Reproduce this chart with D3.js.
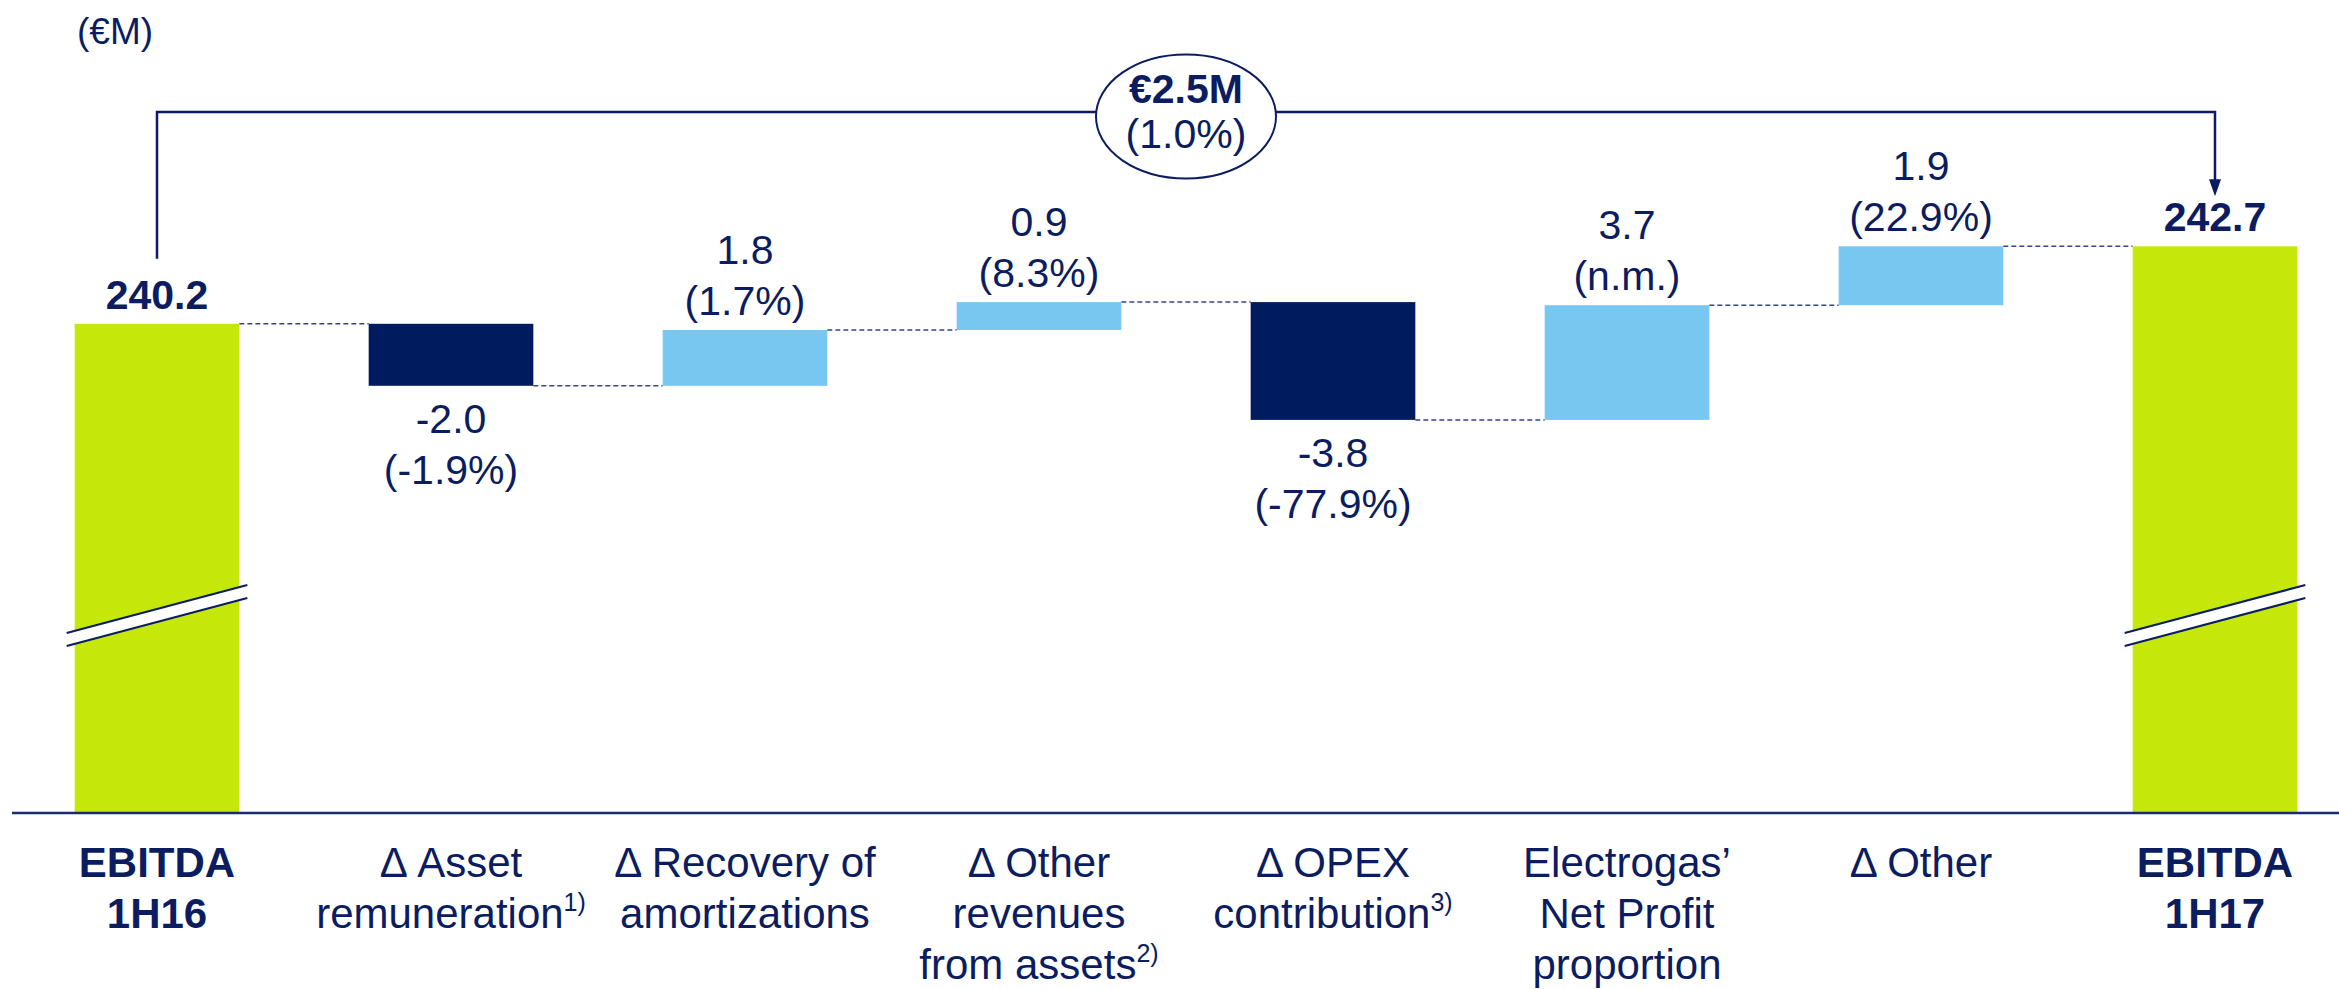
<!DOCTYPE html>
<meta charset="utf-8">
<style>
body {
    margin: 0;
    background: #fff;
}

.chart text {
    font-family: Arial, "Liberation Sans", sans-serif;
    fill: #0b1d60;
}

.chart .connector {
    fill: none;
    stroke: #34448a;
    stroke-width: 1.5;
    stroke-dasharray: 5,3;
}

.chart .bracket {
    fill: none;
    stroke: #0b1d60;
    stroke-width: 2.5;
}

.chart .baseline {
    stroke: #1a2c6c;
    stroke-width: 2.5;
}
</style>
<body>

<svg class="chart js-chart"></svg>

<script src="https://cdn.jsdelivr.net/npm/d3@7"></script>
<script type="text/javascript">
"use strict";

// data
var categories = [
    ["EBITDA", "1H16"],
    ["\u0394 Asset", "remuneration"],
    ["\u0394 Recovery of", "amortizations"],
    ["\u0394 Other", "revenues", "from assets"],
    ["\u0394 OPEX", "contribution"],
    ["Electrogas\u2019", "Net Profit", "proportion"],
    ["\u0394 Other"],
    ["EBITDA", "1H17"]
];
var footnotes = ["", "1)", "", "2)", "3)", "", "", ""];
var values = [240.2, -2.0, 1.8, 0.9, -3.8, 3.7, 1.9, 242.7];
var isTotal = [true, false, false, false, false, false, false, true];
var pctLabels = ["", "(-1.9%)", "(1.7%)", "(8.3%)", "(-77.9%)", "(n.m.)", "(22.9%)", ""];
var totalChange = "\u20ac2.5M";
var totalChangePct = "(1.0%)";
var unitLabel = "(\u20acM)";

var width = 2339,
    height = 989,
    baselineY = 813,
    bracketY = 112,
    green = "#c5e80a",
    navy = "#011b5f",
    lightBlue = "#78c7f0";

var fmt = d3.formatLocale({ decimal: ".", thousands: ",", grouping: [3], currency: ["", ""], minus: "-" }).format(".1f");

// waterfall steps
var running = 0;
var steps = values.map(function(v, i) {
    var start, end;
    if (isTotal[i]) {
        start = null;
        end = v;
    } else {
        start = running;
        end = running + v;
    }
    running = end;
    return { i: i, value: v, start: start, end: end, total: isTotal[i] };
});

var x = d3.scaleBand()
    .domain(d3.range(values.length))
    .range([10, 2362])
    .paddingInner(0.44)
    .paddingOuter(0.22);

var y = d3.scaleLinear()
    .domain([236, 243])
    .range([454, 237]);

var svg = d3.select(".js-chart")
    .attr("width", width)
    .attr("height", height);

var bw = x.bandwidth();

function barTop(d) {
    return d.total ? y(d.end) : y(Math.max(d.start, d.end));
}

function barBottom(d) {
    return d.total ? baselineY : y(Math.min(d.start, d.end));
}

function barColor(d) {
    if (d.total) return green;
    return d.value < 0 ? navy : lightBlue;
}

// connectors
svg.selectAll(".connector")
    .data(steps.slice(0, -1))
    .enter().append("line")
    .attr("class", "connector")
    .attr("x1", function(d) { return x(d.i) + bw; })
    .attr("x2", function(d) { return x(d.i + 1); })
    .attr("y1", function(d) { return y(d.end); })
    .attr("y2", function(d) { return y(d.end); });

// bars
svg.selectAll(".bar")
    .data(steps)
    .enter().append("rect")
    .attr("class", "bar")
    .attr("x", function(d) { return x(d.i); })
    .attr("y", barTop)
    .attr("width", bw)
    .attr("height", function(d) { return barBottom(d) - barTop(d); })
    .attr("fill", barColor);

// axis break marks on the total bars
var breaks = svg.selectAll(".break")
    .data(steps.filter(function(d) { return d.total; }))
    .enter().append("g")
    .attr("class", "break");

breaks.append("path")
    .attr("fill", "#fff")
    .attr("d", function(d) {
        var x0 = x(d.i) - 8, x1 = x(d.i) + bw + 8;
        return "M" + x0 + ",633 L" + x1 + ",585 L" + x1 + ",598 L" + x0 + ",646 Z";
    });

breaks.selectAll("line")
    .data(function(d) { return [[d, 0], [d, 13]]; })
    .enter().append("line")
    .attr("stroke", "#0b1d60")
    .attr("stroke-width", 2.2)
    .attr("x1", function(p) { return x(p[0].i) - 8; })
    .attr("x2", function(p) { return x(p[0].i) + bw + 8; })
    .attr("y1", function(p) { return 633 + p[1]; })
    .attr("y2", function(p) { return 585 + p[1]; });

// baseline
svg.append("line")
    .attr("class", "baseline")
    .attr("x1", 12)
    .attr("x2", width)
    .attr("y1", baselineY)
    .attr("y2", baselineY);

// value labels
steps.forEach(function(d) {
    var cx = x(d.i) + bw / 2;
    if (d.total) {
        svg.append("text")
            .attr("x", cx)
            .attr("y", y(d.end) - 15)
            .attr("text-anchor", "middle")
            .attr("font-size", 41)
            .attr("font-weight", "bold")
            .text(fmt(d.value));
    } else if (d.value >= 0) {
        var top = barTop(d);
        svg.append("text")
            .attr("x", cx)
            .attr("y", top - 66)
            .attr("text-anchor", "middle")
            .attr("font-size", 41)
            .text(fmt(d.value));
        svg.append("text")
            .attr("x", cx)
            .attr("y", top - 15)
            .attr("text-anchor", "middle")
            .attr("font-size", 41)
            .text(pctLabels[d.i]);
    } else {
        var bottom = barBottom(d);
        svg.append("text")
            .attr("x", cx)
            .attr("y", bottom + 47)
            .attr("text-anchor", "middle")
            .attr("font-size", 41)
            .text(fmt(d.value));
        svg.append("text")
            .attr("x", cx)
            .attr("y", bottom + 98)
            .attr("text-anchor", "middle")
            .attr("font-size", 41)
            .text(pctLabels[d.i]);
    }
});

// category labels
categories.forEach(function(lines, i) {
    var cx = x(i) + bw / 2;
    lines.forEach(function(line, j) {
        var t = svg.append("text")
            .attr("x", cx)
            .attr("y", 877 + j * 51)
            .attr("text-anchor", "middle")
            .attr("font-size", 42)
            .attr("font-weight", isTotal[i] ? "bold" : "normal");
        t.append("tspan").text(line);
        if (j === lines.length - 1 && footnotes[i]) {
            t.append("tspan")
                .attr("font-size", 25)
                .attr("dy", -17)
                .text(footnotes[i]);
        }
    });
});

// total change bracket
var xStart = x(0) + bw / 2,
    xEnd = x(values.length - 1) + bw / 2,
    firstTop = y(steps[0].end) - 66,
    lastTop = y(steps[steps.length - 1].end) - 66;

svg.append("path")
    .attr("class", "bracket")
    .attr("d", "M" + xStart + "," + (firstTop + 1) + " V" + bracketY + " H" + xEnd + " V" + (lastTop + 1));

svg.append("path")
    .attr("fill", "#0b1d60")
    .attr("d", "M" + (xEnd - 6) + "," + (lastTop - 1) + " L" + (xEnd + 6) + "," + (lastTop - 1) +
        " L" + xEnd + "," + (lastTop + 16) + " Z");

var midX = (xStart + xEnd) / 2;

svg.append("ellipse")
    .attr("cx", midX)
    .attr("cy", 116.5)
    .attr("rx", 90)
    .attr("ry", 62)
    .attr("fill", "#fff")
    .attr("stroke", "#0b1d60")
    .attr("stroke-width", 2);

svg.append("text")
    .attr("x", midX)
    .attr("y", 103)
    .attr("text-anchor", "middle")
    .attr("font-size", 41)
    .attr("font-weight", "bold")
    .text(totalChange);

svg.append("text")
    .attr("x", midX)
    .attr("y", 148)
    .attr("text-anchor", "middle")
    .attr("font-size", 41)
    .text(totalChangePct);

// unit
svg.append("text")
    .attr("x", 77)
    .attr("y", 44)
    .attr("font-size", 37)
    .text(unitLabel);

</script>
</body>
